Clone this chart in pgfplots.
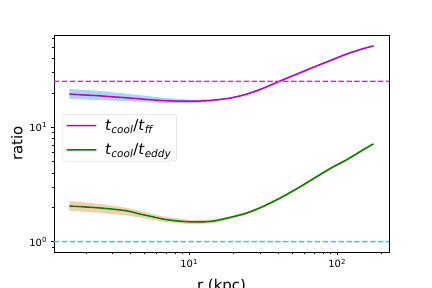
\documentclass[border=0pt]{standalone}
\usepackage{pgfplots}
\pgfplotsset{compat=1.18}
\usepackage{fontspec}
\setmainfont{DejaVu Sans}
\definecolor{mline}{RGB}{191,0,191}
\definecolor{gline}{RGB}{0,128,0}
\definecolor{mdash}{RGB}{204,51,204}
\definecolor{cdash}{RGB}{51,204,204}
\definecolor{bband}{RGB}{172,212,246}
\definecolor{pband}{RGB}{245,205,176}
\definecolor{legframe}{RGB}{215,215,215}
\begin{document}
\begin{tikzpicture}
\begin{axis}[
  at={(0,0)}, anchor=south west,
  scale only axis,
  width=335bp, height=217bp,
  xmode=log, ymode=log,
  xmin=1.22, xmax=224, ymin=0.813, ymax=64.1,
  xtick={10,100}, xticklabels={10\textsuperscript{1},10\textsuperscript{2}},
  ytick={1,10}, yticklabels={10\textsuperscript{0},10\textsuperscript{1}},
  minor xtick={2,3,4,5,6,7,8,9,20,30,40,50,60,70,80,90,200},
  minor ytick={0.9,2,3,4,5,6,7,8,9,20,30,40,50,60},
  tick align=outside, tick pos=left,
  major tick length=3.5bp, minor tick length=2bp,
  major tick style={draw=black, line width=0.6bp},
  minor tick style={draw=black, line width=0.5bp},
  tick label style={font=\fontsize{10}{12}\selectfont},
  axis line style={line width=0.8bp},
  xlabel={r (kpc)}, ylabel={ratio},
  label style={font=\fontsize{15}{18}\selectfont},
  xlabel style={yshift=-4bp},
  legend style={at={(0.026,0.635)}, anchor=north west, draw=legframe, rounded corners=2bp,
    font=\fontsize{15}{18}\selectfont, fill=white, inner sep=3bp, row sep=8bp},
  legend cell align=left,
  legend image code/.code={\draw[#1] (0cm,0cm) .. controls (0.35cm,0.01pt) and (0.7cm,-0.01pt) .. (1.05cm,0cm);},
]
% legend
\addlegendimage{draw=mline, line width=1.5bp}
\addlegendentry{\hspace{6bp}\textit{t}\textsubscript{\textit{cool}}/\textit{t}\textsubscript{\textit{ff}}}
\addlegendimage{draw=gline, line width=1.5bp}
\addlegendentry{\hspace{6bp}\textit{t}\textsubscript{\textit{cool}}/\textit{t}\textsubscript{\textit{eddy}}\hspace{5bp}}
% bands (upper edge left to right, then lower edge right to left)
\addplot[fill=bband, draw=none, forget plot] coordinates {(1.55,21.6)(2.4,20.9)(4.0,19.5)(6.8,18.1)(10.3,17.4)(14.8,17.6)(20,18.6)(24.5,19.9)(31.8,22.4)(41.2,25.9)(53.5,29.8)(69.2,34.1)(89.7,39.0)(116.4,44.6)(150.7,49.6)(175.8,52.2)
 (175.8,50.5)(150.7,47.9)(116.4,42.9)(89.7,37.5)(69.2,32.8)(53.5,28.6)(41.2,24.9)(31.8,21.6)(24.5,19.1)(20,17.9)(14.8,16.9)(10.3,16.2)(6.8,16.3)(4.0,16.9)(2.4,17.3)(1.55,17.7)} -- cycle;
\addplot[fill=pband, draw=none, forget plot] coordinates {(1.55,2.27)(2.4,2.15)(3.8,1.98)(6.8,1.65)(10.3,1.55)(14.8,1.57)(18.9,1.67)(24.5,1.83)(31.8,2.09)(41.2,2.47)(53.5,2.98)(69.2,3.65)(89.7,4.47)(116.4,5.35)(150.7,6.55)(175.8,7.33)
 (175.8,6.99)(150.7,6.23)(116.4,5.09)(89.7,4.25)(69.2,3.47)(53.5,2.84)(41.2,2.35)(31.8,1.99)(24.5,1.73)(18.9,1.58)(14.8,1.45)(10.3,1.42)(6.8,1.49)(3.8,1.70)(2.4,1.80)(1.55,1.86)} -- cycle;
% curves
\addplot[draw=mline, line width=1.5bp, smooth, forget plot] coordinates {(1.55,19.5)(1.9,19.2)(2.4,18.9)(3.0,18.5)(3.8,18.1)(4.7,17.7)(5.7,17.35)(6.8,17.1)(8.3,16.95)(10.3,16.9)(12.3,17.0)(14.8,17.3)(18.9,18.0)(24.5,19.5)(31.8,22.0)(41.2,25.4)(53.5,29.2)(69.2,33.5)(89.7,38.3)(116.4,43.8)(150.7,48.8)(175.8,51.4)};
\addplot[draw=gline, line width=1.5bp, smooth, forget plot] coordinates {(1.55,2.05)(1.9,2.02)(2.4,1.98)(3.0,1.93)(3.8,1.86)(4.7,1.74)(5.7,1.65)(6.8,1.57)(8.3,1.52)(10.3,1.49)(12.3,1.49)(14.8,1.52)(18.9,1.63)(24.5,1.78)(31.8,2.04)(41.2,2.41)(53.5,2.91)(69.2,3.56)(89.7,4.36)(116.4,5.22)(150.7,6.39)(175.8,7.16)};
% reference lines
\addplot[draw=mdash, line width=1.5bp, dash pattern=on 5.5bp off 2.4bp, smooth, forget plot] coordinates {(1.22,25.2) (16,25.201) (224,25.2)};
\addplot[draw=cdash, line width=1.5bp, dash pattern=on 5.5bp off 2.4bp, smooth, forget plot] coordinates {(1.22,1) (16,1.0001) (224,1)};
\end{axis}
\pgfresetboundingbox
\useasboundingbox (-54bp,-36bp) rectangle (378bp,252bp);
\end{tikzpicture}
\end{document}
